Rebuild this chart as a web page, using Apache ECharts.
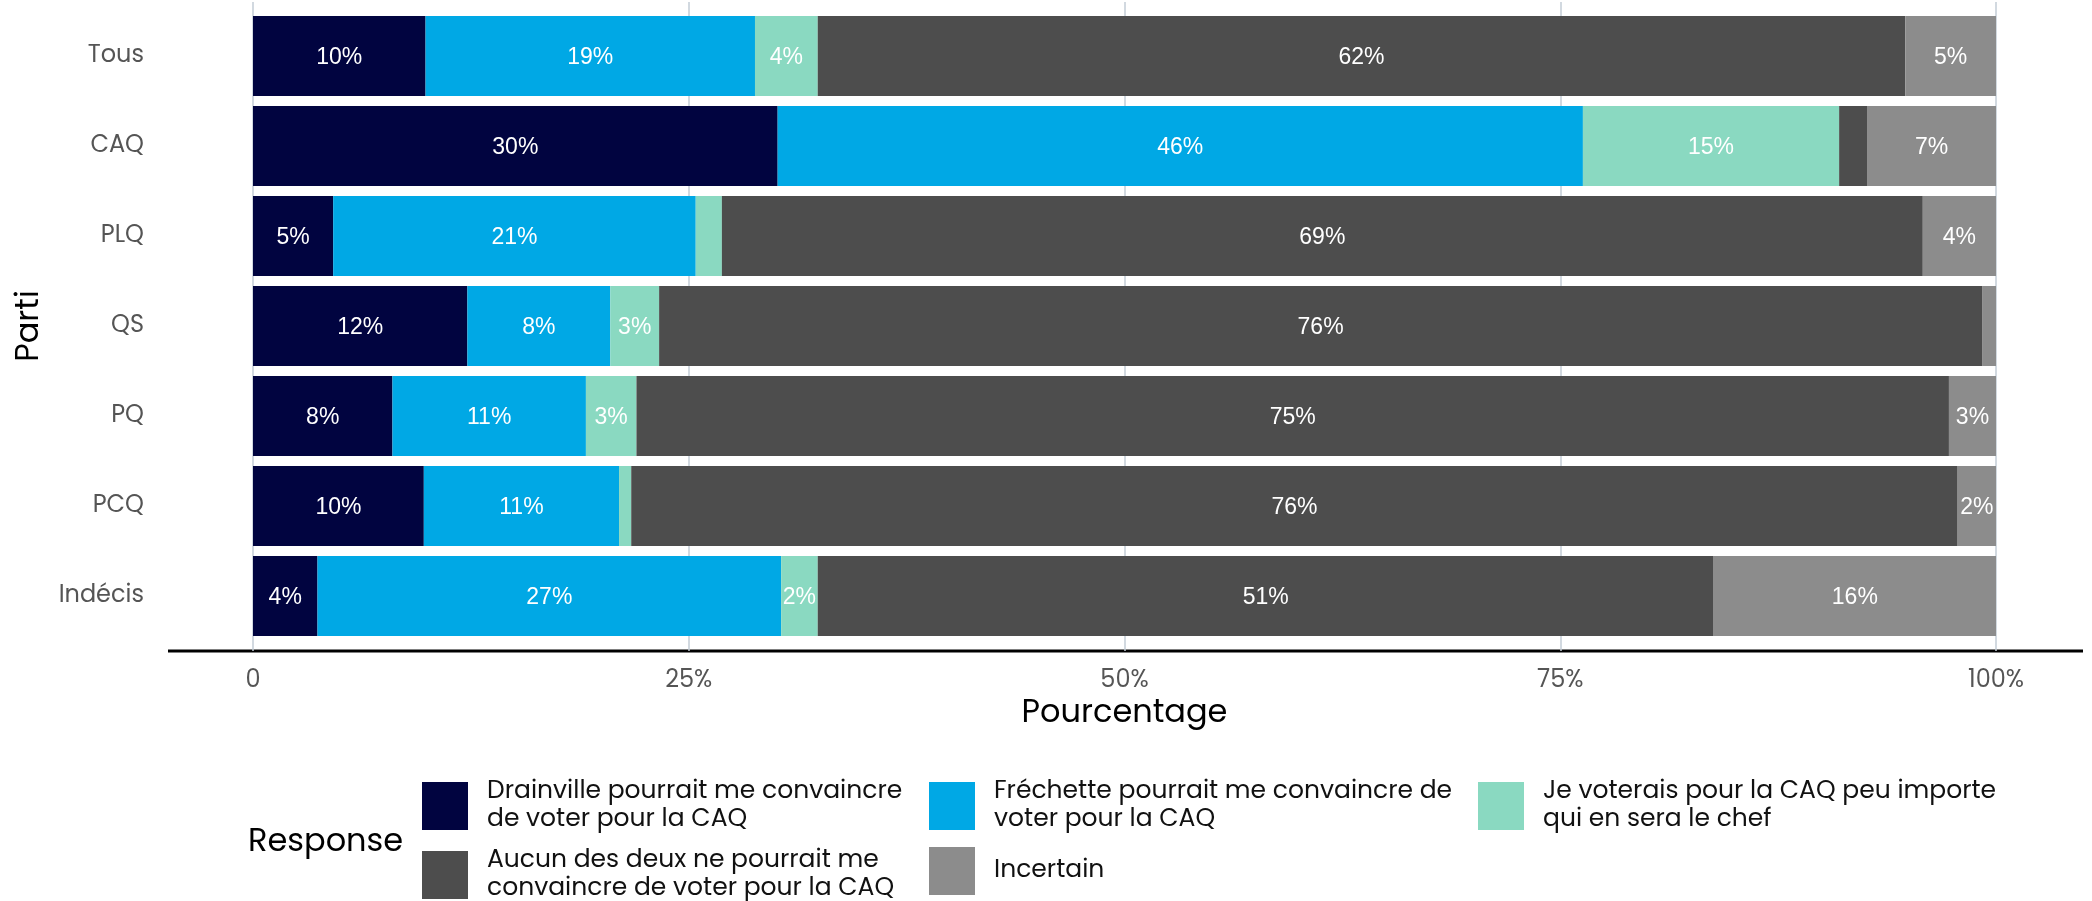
<!DOCTYPE html>
<html>
<head>
<meta charset="utf-8">
<script src="https://cdn.jsdelivr.net/npm/echarts@6/dist/echarts.min.js"></script>
<style>
html,body{margin:0;padding:0;background:#fff;}
#chart{width:2092px;height:901px;}
</style>
</head>
<body>
<div id="chart"></div>
<script>
// categories, top to bottom
var partis = ['Tous', 'CAQ', 'PLQ', 'QS', 'PQ', 'PCQ', 'Indécis'];

// valeurs (%)
var drainville = [9.9, 30.1, 4.6, 12.3, 8.0, 9.8, 3.7];
var frechette  = [18.9, 46.2, 20.8, 8.2, 11.1, 11.2, 26.6];
var peuImporte = [3.6, 14.7, 1.5, 2.8, 2.9, 0.7, 2.1];
var aucun      = [62.4, 1.6, 68.9, 75.9, 75.3, 76.1, 51.4];
var incertain  = [5.2, 7.4, 4.2, 0.8, 2.7, 2.2, 16.2];

var tickLabels = ['0', '25%', '50%', '75%', '100%'];

var nomsSeries = [
	'Drainville pourrait me convaincre de voter pour la CAQ',
	'Fréchette pourrait me convaincre de voter pour la CAQ',
	'Je voterais pour la CAQ peu importe qui en sera le chef',
	'Aucun des deux ne pourrait me convaincre de voter pour la CAQ',
	'Incertain'
];
// texte de légende sur deux lignes
var lignesLegende = [
	'Drainville pourrait me convaincre\nde voter pour la CAQ',
	'Fréchette pourrait me convaincre de\nvoter pour la CAQ',
	'Je voterais pour la CAQ peu importe\nqui en sera le chef',
	'Aucun des deux ne pourrait me\nconvaincre de voter pour la CAQ',
	'Incertain'
];
var couleurs = ['#010440', '#00A8E5', '#8AD9C1', '#4D4D4D', '#8C8C8C'];
var valeurs = [drainville, frechette, peuImporte, aucun, incertain];

var axisFont = 'Poppins, "Open Sans", Lato, sans-serif';

var series = nomsSeries.map(function (nom, i) {
	return {
		name: nom,
		type: 'bar',
		stack: 'total',
		xAxisIndex: 1,
		yAxisIndex: 1,
		barCategoryGap: '11%',
		itemStyle: {color: couleurs[i]},
		label: {
			show: true,
			position: 'inside',
			offset: [0, 2],
			color: '#fff',
			fontFamily: '"Liberation Sans", Arial, sans-serif',
			fontSize: 23,
			formatter: function (p) {
				return p.value >= 2 ? Math.round(p.value) + '%' : '';
			}
		},
		data: valeurs[i]
	};
});

// une légende par élément, pour placer les colonnes comme l'original
function legende(i, left, top) {
	return {
		orient: 'vertical',
		left: left,
		top: top,
		padding: 0,
		icon: 'rect',
		itemWidth: 46,
		itemHeight: 48,
		data: [nomsSeries[i]],
		formatter: function (name) {
			return lignesLegende[nomsSeries.indexOf(name)];
		},
		textStyle: {
			color: '#111',
			fontFamily: axisFont,
			fontSize: 25,
			lineHeight: 28,
			padding: [4, 0, 0, 14]
		}
	};
}

var myChart = echarts.init(document.getElementById('chart'));

var option = {
	animation: false,
	backgroundColor: '#fff',
	title: {
		text: 'Response',
		left: 248,
		top: 827,
		padding: 0,
		textStyle: {fontFamily: axisFont, fontSize: 32, fontWeight: 'normal', color: '#000'}
	},
	grid: [
		{left: 253, right: 96, top: 2, bottom: 250},
		{left: 253, right: 96, top: 11, bottom: 260}
	],
	xAxis: [
		{
			// grille verticale seulement
			gridIndex: 0, type: 'value', min: 0, max: 100, interval: 25,
			axisLine: {show: false}, axisTick: {show: false}, axisLabel: {show: false},
			splitLine: {show: true, lineStyle: {color: '#C3CDD6', width: 1.5}}
		},
		{
			gridIndex: 1, type: 'value', min: 0, max: 100, interval: 25,
			axisLine: {show: false}, axisTick: {show: false},
			splitLine: {show: false},
			axisLabel: {
				margin: 28,
				color: '#555',
				fontFamily: axisFont,
				fontSize: 24,
				formatter: function (v) { return tickLabels[v / 25]; }
			},
			name: 'Pourcentage',
			nameLocation: 'middle',
			nameGap: 57,
			nameTextStyle: {fontFamily: axisFont, fontSize: 32, color: '#000'}
		}
	],
	yAxis: [
		{gridIndex: 0, type: 'value', show: false},
		{
			gridIndex: 1,
			type: 'category',
			inverse: true,
			data: partis,
			axisLine: {show: false},
			axisTick: {show: false},
			axisLabel: {margin: 109, color: '#555', fontFamily: axisFont, fontSize: 24, padding: [4, 0, 0, 0]},
			name: 'Parti',
			nameLocation: 'middle',
			nameRotate: 90,
			nameGap: 207,
			nameTextStyle: {fontFamily: axisFont, fontSize: 32, color: '#000'}
		}
	],
	legend: [
		legende(0, 422, 776),
		legende(3, 422, 845),
		legende(1, 929, 776),
		legende(4, 929, 847),
		legende(2, 1478, 776)
	],
	graphic: [
		{
			type: 'line',
			shape: {x1: 168, y1: 651, x2: 2083, y2: 651},
			style: {stroke: '#000', lineWidth: 3}
		}
	],
	series: series
};

myChart.setOption(option);
</script>
</body>
</html>
